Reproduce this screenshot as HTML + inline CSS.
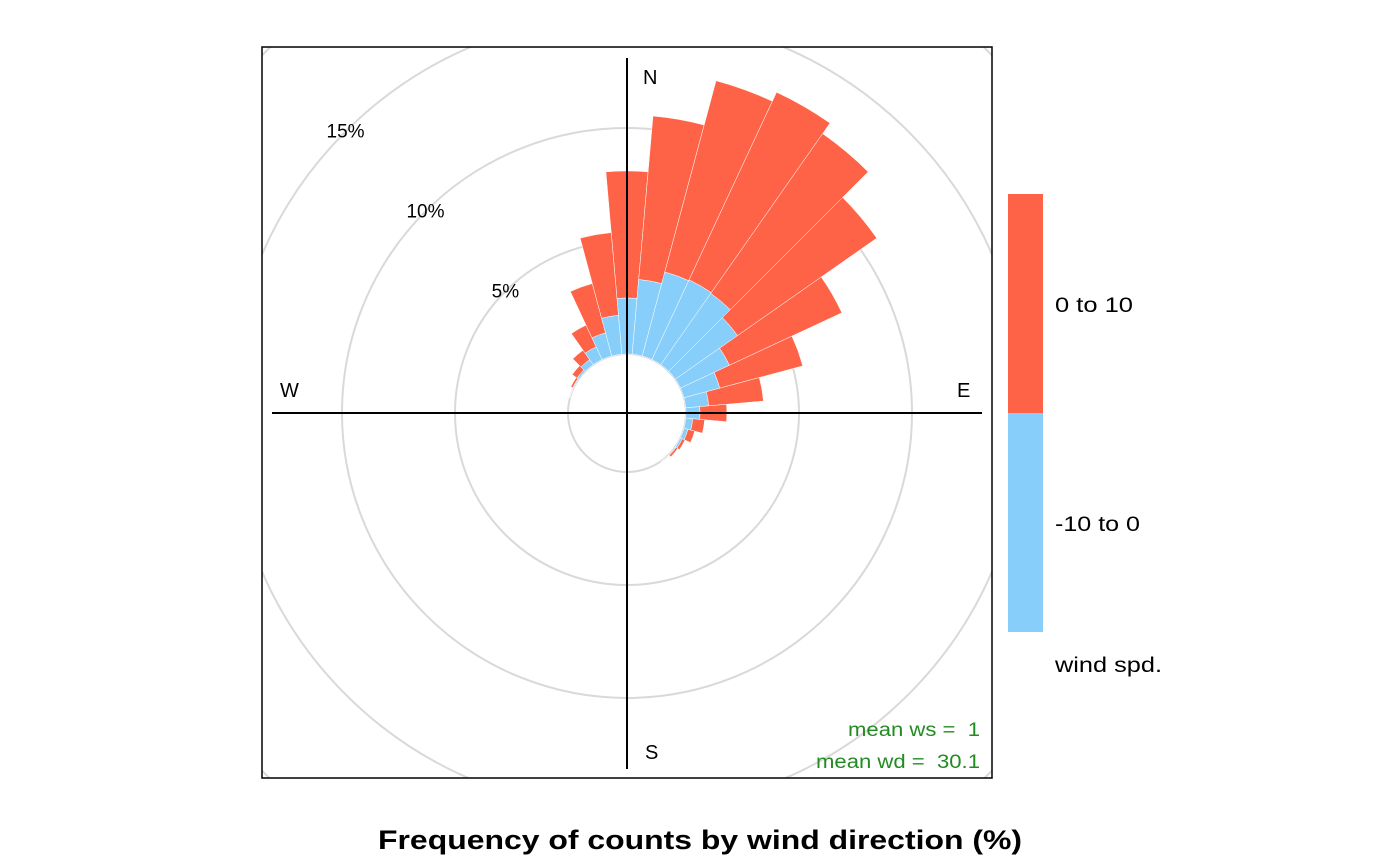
<!DOCTYPE html>
<html><head><meta charset="utf-8"><style>
html,body{margin:0;background:#fff;overflow:hidden;width:1400px;height:866px;}
svg{display:block;font-family:"Liberation Sans",Arial,sans-serif;}
text{white-space:pre;}
</style></head><body>
<svg id="chart" width="1400" height="866">
<defs><clipPath id="pc"><rect x="262" y="47" width="730" height="731"/></clipPath></defs>
<g id="grid" clip-path="url(#pc)"></g>
<g id="bars"></g>
<g>
<line x1="627" y1="58" x2="627" y2="769" stroke="#000" stroke-width="2"/>
<line x1="272" y1="413" x2="982" y2="413" stroke="#000" stroke-width="2"/>
</g>
<rect x="262" y="47" width="730" height="731" fill="none" stroke="#000" stroke-width="1.5"/>
<g font-size="20" fill="#000">
<text x="643" y="84">N</text>
<text x="645" y="759">S</text>
<text x="280" y="397">W</text>
<text x="957" y="397">E</text>
</g>
<g id="pctlabels" font-size="19" fill="#000"></g>
<g font-size="19" fill="#228B22">
<text x="848" y="736" textLength="132" lengthAdjust="spacingAndGlyphs">mean ws =  1</text>
<text x="816" y="768" textLength="164" lengthAdjust="spacingAndGlyphs">mean wd =  30.1</text>
</g>
<g>
<rect x="1008" y="194" width="35" height="219" fill="#FF6347"/>
<rect x="1008" y="413" width="35" height="219" fill="#87CEFA"/>
<text x="1055" y="312" font-size="21" textLength="78" lengthAdjust="spacingAndGlyphs">0 to 10</text>
<text x="1055" y="531" font-size="21" textLength="85" lengthAdjust="spacingAndGlyphs">-10 to 0</text>
<text x="1055" y="672" font-size="21" textLength="107" lengthAdjust="spacingAndGlyphs">wind spd.</text>
</g>
<text x="378" y="849" font-size="27" font-weight="bold" textLength="644" lengthAdjust="spacingAndGlyphs">Frequency of counts by wind direction (%)</text>
</svg>
<script>
const directions = [0,10,20,30,40,50,60,70,80,90,100,110,120,130,140,290,300,310,320,330,340,350];
const lowSeries  = [2.48,3.32,3.85,3.89,3.85,3.36,2.39,1.64,1.02,0.62,0.31,0.18,0.09,0.04,0.02,0.02,0.04,0.09,0.27,0.62,1.06,1.73];
const highSeries = [5.62,7.26,8.76,9.16,8.63,7.52,5.49,3.80,2.43,1.19,0.53,0.31,0.13,0.09,0.02,0.02,0.09,0.26,0.51,1.06,2.26,3.67];
const gridLevels = [5,10,15,20];
const gridLabels = ["5%","10%","15%",""];

const NS="http://www.w3.org/2000/svg";
const cx=627, cy=413, r0=59, k=22.6;
const rad = p => r0 + p*k;
function pt(r,deg){const a=deg*Math.PI/180;return [cx+r*Math.sin(a), cy-r*Math.cos(a)];}
function sector(r1,r2,d){
  const a1=d-5,a2=d+5;
  const p1=pt(r1,a1),p2=pt(r2,a1),p3=pt(r2,a2),p4=pt(r1,a2);
  return `M${p1} L${p2} A${r2},${r2} 0 0 1 ${p3} L${p4} A${r1},${r1} 0 0 0 ${p1}Z`;
}
const grid=document.getElementById('grid');
const c0=document.createElementNS(NS,'circle');
c0.setAttribute('cx',cx);c0.setAttribute('cy',cy);c0.setAttribute('r',r0);
c0.setAttribute('fill','none');c0.setAttribute('stroke','#d9d9d9');c0.setAttribute('stroke-width','2');


grid.appendChild(c0);
const pl=document.getElementById('pctlabels');
gridLevels.forEach((g,i)=>{
  const c=document.createElementNS(NS,'circle');
  c.setAttribute('cx',cx);c.setAttribute('cy',cy);c.setAttribute('r',rad(g));
  c.setAttribute('fill','none');c.setAttribute('stroke','#d9d9d9');c.setAttribute('stroke-width','2');
  
  
  grid.appendChild(c);
  if(gridLabels[i]){
    const p=pt(rad(g),-45);
    const t=document.createElementNS(NS,'text');
    t.setAttribute('x',p[0]);t.setAttribute('y',p[1]+6);t.setAttribute('text-anchor','middle');
    t.textContent=gridLabels[i];
    
    
    pl.appendChild(t);
  }
});
const bars=document.getElementById('bars');
directions.forEach((d,i)=>{
  const lo=lowSeries[i], hi=lo+highSeries[i];
  const b=document.createElementNS(NS,'path');
  b.setAttribute('d',sector(rad(0),rad(lo),d));
  b.setAttribute('fill','#87CEFA');b.setAttribute('stroke','#fff');b.setAttribute('stroke-width','0.5');
  
  
  bars.appendChild(b);
  const h=document.createElementNS(NS,'path');
  h.setAttribute('d',sector(rad(lo),rad(hi),d));
  h.setAttribute('fill','#FF6347');h.setAttribute('stroke','#fff');h.setAttribute('stroke-width','0.5');
  
  
  bars.appendChild(h);
});
</script>
</body></html>
